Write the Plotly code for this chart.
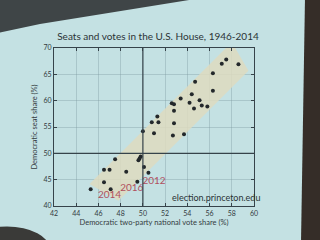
import plotly.graph_objects as go

# ---- data ----
vote_share = [45.3, 46.5, 47.0, 47.5, 46.5, 47.1, 48.5, 49.5, 49.8, 49.7, 49.6, 50.1, 50.5,
              50.0, 51.0, 50.8, 51.4, 51.3, 52.7, 52.8, 52.8, 52.6, 52.8, 53.4, 53.7,
              54.2, 54.6, 54.4, 55.1, 55.3, 55.8, 54.7, 56.3, 56.3, 57.1, 57.5, 58.6]
seat_share = [43.2, 46.9, 46.9, 48.9, 44.5, 43.2, 46.5, 44.6, 49.4, 49.0, 48.7, 47.4, 46.3,
              54.2, 53.8, 55.9, 55.9, 57.0, 53.4, 55.7, 58.1, 59.5, 59.3, 60.4, 53.6,
              59.6, 58.5, 61.2, 60.1, 59.1, 58.9, 63.6, 61.9, 65.2, 67.0, 67.8, 66.9]

band_vote = [45.2, 58.0, 59.5, 47.8]
band_seat = [44.2, 71.1, 65.7, 41.0]

year_labels = ["2014", "2016", "2012"]
year_vote = [47.0, 49.0, 51.0]
year_seat = [41.9, 43.4, 44.7]

x_ticks = [42, 44, 46, 48, 50, 52, 54, 56, 58, 60]
y_ticks = [40, 45, 50, 55, 60, 65, 70]
ref_vote = 50
ref_seat = 50

FONT = "Liberation Sans Narrow, Lato, sans-serif"
BG = "#c4e1e3"
AX = "#36434a"

fig = go.Figure()
fig.add_trace(go.Scatter(x=band_vote, y=band_seat, fill="toself", mode="lines",
                         line=dict(width=0), fillcolor="rgba(222,219,192,0.85)",
                         hoverinfo="skip", showlegend=False))
fig.add_trace(go.Scatter(x=vote_share, y=seat_share, mode="markers",
                         marker=dict(size=4, color="#23282b"), showlegend=False))
fig.add_trace(go.Scatter(x=year_vote, y=year_seat, mode="text", text=year_labels,
                         textfont=dict(family=FONT, size=10, color="#b0505e"),
                         showlegend=False))

fig.add_vline(x=ref_vote, line=dict(color=AX, width=1.2))
fig.add_hline(y=ref_seat, line=dict(color=AX, width=1.2))

# photo surroundings (dark edges of the projected slide)
fig.add_shape(type="path", xref="paper", yref="paper", layer="above",
              path="M -0.3,1.32 L 0.755,1.32 L -0.07,1.152 L -0.3,1.09 Z",
              fillcolor="#3f4547", line=dict(width=0))
fig.add_shape(type="path", xref="paper", yref="paper", layer="above",
              path="M 1.255,1.32 L 1.34,1.32 L 1.34,-0.23 L 1.235,-0.23 Z",
              fillcolor="#352d28", line=dict(width=0))
fig.add_shape(type="circle", xref="paper", yref="paper", layer="above",
              x0=-0.45, x1=-0.02, y0=-0.42, y1=-0.13,
              fillcolor="#3a3a38", line=dict(width=0))

fig.add_annotation(text="election.princeton.edu", xref="x", yref="y", x=56.6, y=41.7,
                   showarrow=False, font=dict(family=FONT, size=9, color="#2b3336"))

fig.update_layout(
    width=320, height=240,
    margin=dict(l=54, r=66, t=48, b=34),
    paper_bgcolor=BG, plot_bgcolor=BG,
    font=dict(family=FONT, size=7, color="#333b3e"),
    title=dict(text="Seats and votes in the U.S. House, 1946-2014",
               x=0.52, xref="paper", y=0.85, yref="container", yanchor="middle",
               xanchor="center", font=dict(family=FONT, size=10, color="#2b3336")),
    showlegend=False,
)
fig.update_xaxes(range=[42, 60], tickvals=x_ticks, showgrid=True,
                 gridcolor="rgba(120,150,155,0.35)", gridwidth=0.8, zeroline=False,
                 showline=True, linecolor=AX, linewidth=1.2, mirror="ticks",
                 ticks="inside", ticklen=2.5, tickcolor=AX,
                 title=dict(text="Democratic two-party national vote share (%)",
                            standoff=4, font=dict(size=7.5)))
fig.update_yaxes(range=[40, 70], tickvals=y_ticks, showgrid=True,
                 gridcolor="rgba(120,150,155,0.35)", gridwidth=0.8, zeroline=False,
                 showline=True, linecolor=AX, linewidth=1.2, mirror="ticks",
                 ticks="inside", ticklen=2.5, tickcolor=AX,
                 title=dict(text="Democratic seat share (%)", standoff=4,
                            font=dict(size=7.5)))

fig.write_html("out.html")
